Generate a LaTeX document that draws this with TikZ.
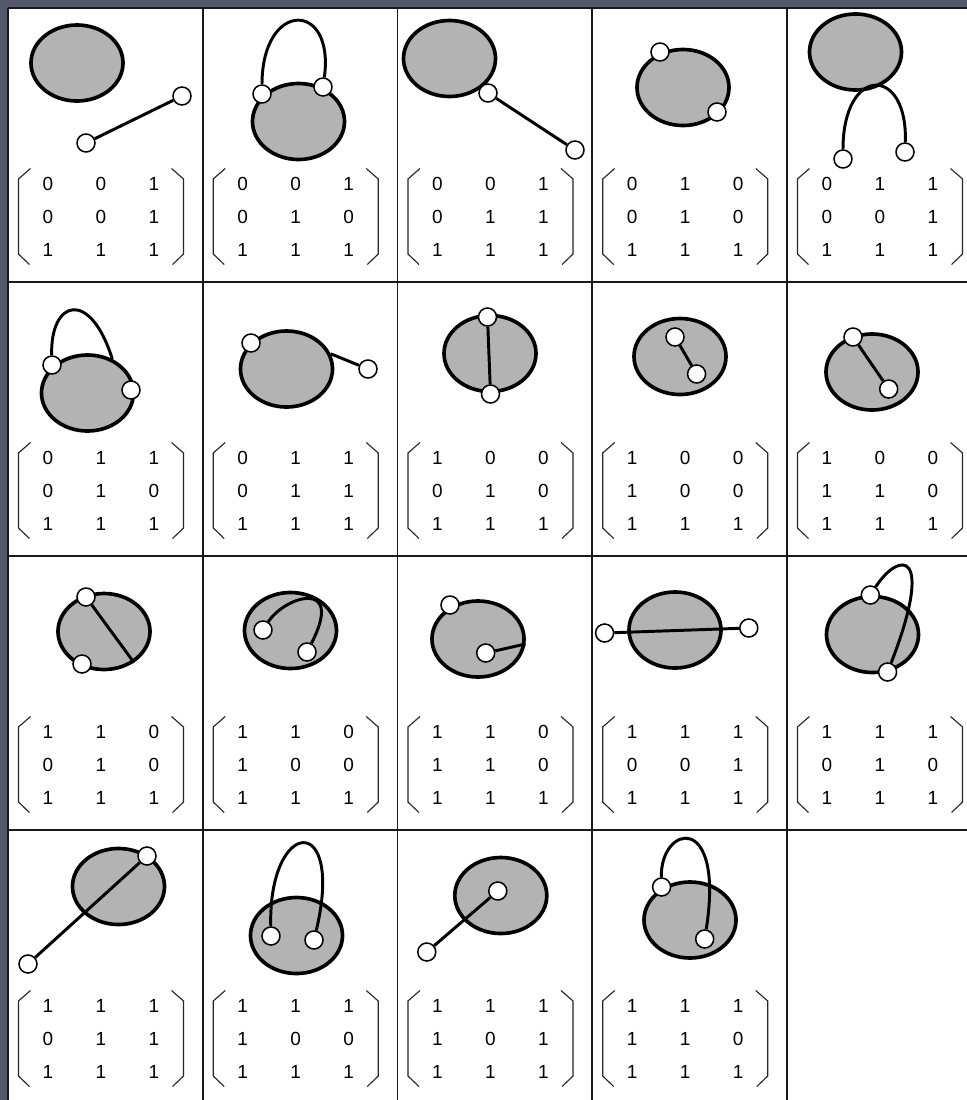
\documentclass[tikz,border=0pt]{standalone}
\usepackage{fontspec}
\setmainfont{Liberation Sans}
\usepackage{tikz}
\usetikzlibrary{shapes.geometric,matrix,calc}

\definecolor{framecol}{RGB}{84,88,108}
\definecolor{blobgray}{RGB}{179,179,179}
\newcommand{\matfont}{\fontsize{13.5}{16}\selectfont}
\newcommand{\matbrackets}[1]{%
  \draw[brk] ($(#1.north west)+(9,1.5)$) -- ($(#1.north west)+(-3,12)$)
          -- ($(#1.south west)+(-3,-12)$) -- ($(#1.south west)+(8,-1.5)$);
  \draw[brk] ($(#1.north east)+(-9,1.5)$) -- ($(#1.north east)+(3,12)$)
          -- ($(#1.south east)+(3,-12)$) -- ($(#1.south east)+(-8,-1.5)$);}

\begin{document}
\begin{tikzpicture}[
  x=0.025cm, y=-0.025cm,
  blob/.style={ellipse, draw=black, line width=2.6pt, fill=blobgray,
    minimum width=2.3cm, minimum height=1.9cm, inner sep=0pt},
  vtx/.style={circle, draw=black, line width=1.1pt, fill=white,
    minimum size=0.45cm, inner sep=0pt},
  link/.style={line width=2.1pt},
  mat/.style={matrix of nodes, inner sep=0pt, outer sep=0pt,
    nodes={font=\matfont, minimum width=1.325cm, minimum height=0.825cm,
      inner sep=0pt, anchor=center}},
  brk/.style={line width=0.8pt, draw=black!85},
  rule/.style={line width=1.1pt, draw=black!90}
]
\useasboundingbox (0,0) rectangle (967,1100);

% --- frame and table
\fill[framecol] (0,0) rectangle (967,1100);
\fill[white] (8,8) rectangle (967,1100);
\draw[rule] (8,8) -- (967,8);
\draw[rule] (8,282) -- (967,282);
\draw[rule] (8,556) -- (967,556);
\draw[rule] (8,830) -- (967,830);
\draw[rule] (8,8) -- (8,1100);
\draw[rule] (202.75,8) -- (202.75,1100);
\draw[rule] (397.5,8) -- (397.5,1100);
\draw[rule] (592.25,8) -- (592.25,1100);
\draw[rule] (787,8) -- (787,1100);

% --- row 1
\node[blob] (b1) at (77,63) {};
\node[vtx] (v1a) at (182,96) {};
\node[vtx] (v1b) at (86,143) {};
\draw[link] (v1a) -- (v1b);
\matrix[mat] (m1) at (101,216.5) {0 & 0 & 1\\ 0 & 0 & 1\\ 1 & 1 & 1\\};
\matbrackets{m1}

\node[blob] (b2) at (298.5,121.5) {};
\node[vtx] (v2a) at (262,94) {};
\node[vtx] (v2b) at (323,87) {};
\draw[link] (v2a) .. controls (262,0) and (335,0) .. (v2b);
\matrix[mat] (m2) at (295.75,216.5) {0 & 0 & 1\\ 0 & 1 & 0\\ 1 & 1 & 1\\};
\matbrackets{m2}

\node[blob] (b3) at (449.5,58.5) {};
\node[vtx] (v3a) at (488,93) {};
\node[vtx] (v3b) at (575,150) {};
\draw[link] (v3a) -- (v3b);
\matrix[mat] (m3) at (490.5,216.5) {0 & 0 & 1\\ 0 & 1 & 1\\ 1 & 1 & 1\\};
\matbrackets{m3}

\node[blob] (b4) at (683,87.5) {};
\node[vtx] (v4a) at (660,52) {};
\node[vtx] (v4b) at (717,112) {};
\matrix[mat] (m4) at (685.25,216.5) {0 & 1 & 0\\ 0 & 1 & 0\\ 1 & 1 & 1\\};
\matbrackets{m4}

\node[blob] (b5) at (855.5,52) {};
\node[vtx] (v5a) at (843,159) {};
\node[vtx] (v5b) at (905,152) {};
\draw[link] (v5a) .. controls (843,65) and (908,65) .. (v5b);
\matrix[mat] (m5) at (880,216.5) {0 & 1 & 1\\ 0 & 0 & 1\\ 1 & 1 & 1\\};
\matbrackets{m5}

% --- row 2
\node[blob] (b6) at (87.5,393) {};
\node[vtx] (v6a) at (52,365) {};
\node[vtx] (v6b) at (131,390) {};
\draw[link] (v6a) .. controls (50,300) and (90,288) .. (b6.54);
\matrix[mat] (m6) at (101,490.5) {0 & 1 & 1\\ 0 & 1 & 0\\ 1 & 1 & 1\\};
\matbrackets{m6}

\node[blob] (b7) at (286.5,369) {};
\node[vtx] (v7a) at (251,343) {};
\node[vtx] (v7b) at (368,369) {};
\draw[link] (b7.19) -- (v7b);
\matrix[mat] (m7) at (295.75,490.5) {0 & 1 & 1\\ 0 & 1 & 1\\ 1 & 1 & 1\\};
\matbrackets{m7}

\node[blob] (b8) at (490,353.5) {};
\node[vtx] (v8a) at (487.5,317) {};
\node[vtx] (v8b) at (490.5,394) {};
\draw[link] (v8a) -- (v8b);
\matrix[mat] (m8) at (490.5,490.5) {1 & 0 & 0\\ 0 & 1 & 0\\ 1 & 1 & 1\\};
\matbrackets{m8}

\node[blob] (b9) at (680,356.5) {};
\node[vtx] (v9a) at (675,337) {};
\node[vtx] (v9b) at (696.6,374) {};
\draw[link] (v9a) -- (v9b);
\matrix[mat] (m9) at (685.25,490.5) {1 & 0 & 0\\ 1 & 0 & 0\\ 1 & 1 & 1\\};
\matbrackets{m9}

\node[blob] (b10) at (872,372) {};
\node[vtx] (v10a) at (853,337) {};
\node[vtx] (v10b) at (888.7,389) {};
\draw[link] (v10a) -- (v10b);
\matrix[mat] (m10) at (880,490.5) {1 & 0 & 0\\ 1 & 1 & 0\\ 1 & 1 & 1\\};
\matbrackets{m10}

% --- row 3
\node[blob] (b11) at (104,631.5) {};
\node[vtx] (v11a) at (86,597) {};
\node[vtx] (v11b) at (82,664) {};
\draw[link] (v11a) -- (b11.-46);
\matrix[mat] (m11) at (101,764.5) {1 & 1 & 0\\ 0 & 1 & 0\\ 1 & 1 & 1\\};
\matbrackets{m11}

\node[blob] (b12) at (290.5,630.5) {};
\node[vtx] (v12a) at (263,630) {};
\node[vtx] (v12b) at (307,652) {};
\draw[link] (v12a) .. controls (285,596) and (345,578) .. (v12b);
\matrix[mat] (m12) at (295.75,764.5) {1 & 1 & 0\\ 1 & 0 & 0\\ 1 & 1 & 1\\};
\matbrackets{m12}

\node[blob] (b13) at (478,639) {};
\node[vtx] (v13a) at (450,605) {};
\node[vtx] (v13b) at (485.7,653) {};
\draw[link] (v13b) -- (b13.-6);
\matrix[mat] (m13) at (490.5,764.5) {1 & 1 & 0\\ 1 & 1 & 0\\ 1 & 1 & 1\\};
\matbrackets{m13}

\node[blob] (b14) at (675,630) {};
\node[vtx] (v14a) at (604.6,633) {};
\node[vtx] (v14b) at (748.8,628) {};
\draw[link] (v14a) -- (v14b);
\matrix[mat] (m14) at (685.25,764.5) {1 & 1 & 1\\ 0 & 0 & 1\\ 1 & 1 & 1\\};
\matbrackets{m14}

\node[blob] (b15) at (872.5,634.5) {};
\node[vtx] (v15a) at (870.3,595) {};
\node[vtx] (v15b) at (887.6,672) {};
\draw[link] (v15a) .. controls (900,550) and (935,550) .. (v15b);
\matrix[mat] (m15) at (880,764.5) {1 & 1 & 1\\ 0 & 1 & 0\\ 1 & 1 & 1\\};
\matbrackets{m15}

% --- row 4
\node[blob] (b16) at (118.5,886.5) {};
\node[vtx] (v16a) at (147,856) {};
\node[vtx] (v16b) at (28,964) {};
\draw[link] (v16a) -- (v16b);
\matrix[mat] (m16) at (101,1038.5) {1 & 1 & 1\\ 0 & 1 & 1\\ 1 & 1 & 1\\};
\matbrackets{m16}

\node[blob] (b17) at (296.5,935.5) {};
\node[vtx] (v17a) at (271,936) {};
\node[vtx] (v17b) at (314,940) {};
\draw[link] (v17a) .. controls (268,818) and (345,810) .. (v17b);
\matrix[mat] (m17) at (295.75,1038.5) {1 & 1 & 1\\ 1 & 0 & 0\\ 1 & 1 & 1\\};
\matbrackets{m17}

\node[blob] (b18) at (500.8,895.5) {};
\node[vtx] (v18a) at (497.8,891) {};
\node[vtx] (v18b) at (426.8,952) {};
\draw[link] (v18a) -- (v18b);
\matrix[mat] (m18) at (490.5,1038.5) {1 & 1 & 1\\ 1 & 0 & 1\\ 1 & 1 & 1\\};
\matbrackets{m18}

\node[blob] (b19) at (690,920) {};
\node[vtx] (v19a) at (661.6,887) {};
\node[vtx] (v19b) at (704.7,939) {};
\draw[link] (v19a) .. controls (660,825) and (725,810) .. (v19b);
\matrix[mat] (m19) at (685.25,1038.5) {1 & 1 & 1\\ 1 & 1 & 0\\ 1 & 1 & 1\\};
\matbrackets{m19}

\end{tikzpicture}
\end{document}
